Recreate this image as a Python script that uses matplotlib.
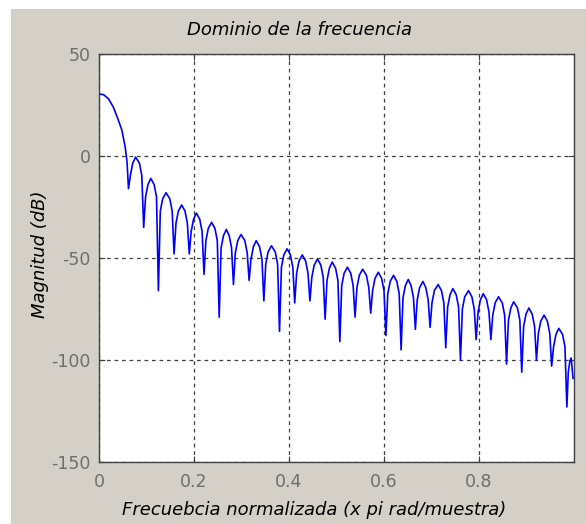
import matplotlib
matplotlib.use("Agg")
import matplotlib.pyplot as plt
from matplotlib.patches import Rectangle

plt.rcParams['axes.unicode_minus'] = False

# lectura de la respuesta en frecuencia (x pi rad/muestra, dB)
# lobulo principal
freq_main = [0.0, 0.010, 0.020, 0.030, 0.040, 0.048, 0.055, 0.059]
mag_main = [30.4, 30.0, 28.0, 24.0, 18.0, 12.7, 4.5, -3.0]

# lobulos laterales: nulo, hombro, hombro, pico, hombro, hombro
freq_side = [
    0.062, 0.066, 0.071, 0.077, 0.085, 0.090,
    0.094, 0.098, 0.103, 0.109, 0.116, 0.121,
    0.125, 0.129, 0.134, 0.141, 0.149, 0.154,
    0.158, 0.162, 0.167, 0.174, 0.181, 0.186,
    0.190, 0.194, 0.199, 0.205, 0.212, 0.217,
    0.221, 0.225, 0.230, 0.237, 0.244, 0.249,
    0.253, 0.257, 0.262, 0.268, 0.274, 0.279,
    0.283, 0.287, 0.292, 0.299, 0.307, 0.312,
    0.316, 0.320, 0.325, 0.331, 0.338, 0.343,
    0.347, 0.351, 0.356, 0.363, 0.371, 0.376,
    0.380, 0.384, 0.389, 0.396, 0.403, 0.408,
    0.412, 0.416, 0.421, 0.428, 0.435, 0.440,
    0.444, 0.448, 0.453, 0.460, 0.467, 0.472,
    0.476, 0.480, 0.485, 0.491, 0.498, 0.503,
    0.507, 0.511, 0.516, 0.523, 0.530, 0.535,
    0.539, 0.543, 0.548, 0.555, 0.563, 0.568,
    0.572, 0.576, 0.581, 0.588, 0.595, 0.600,
    0.604, 0.608, 0.613, 0.620, 0.627, 0.632,
    0.636, 0.640, 0.645, 0.651, 0.657, 0.662,
    0.666, 0.670, 0.675, 0.682, 0.688, 0.693,
    0.697, 0.701, 0.706, 0.714, 0.721, 0.726,
    0.730, 0.734, 0.739, 0.745, 0.752, 0.757,
    0.761, 0.765, 0.770, 0.778, 0.785, 0.790,
    0.794, 0.798, 0.803, 0.809, 0.816, 0.821,
    0.825, 0.829, 0.834, 0.841, 0.849, 0.854,
    0.858, 0.862, 0.867, 0.873, 0.881, 0.886,
    0.890, 0.894, 0.899, 0.905, 0.912, 0.917,
    0.921, 0.925, 0.930, 0.937, 0.944, 0.949,
    0.953, 0.957, 0.962, 0.968, 0.976, 0.981,
    0.985, 0.988, 0.991, 0.994, 0.998,
]
mag_side = [
    -16, -9.5, -3.5, -0.5, -3.5, -9.5,
    -35, -20, -14, -11, -14, -20,
    -66, -27, -21, -18, -21, -27,
    -48, -33, -27, -24, -27, -33,
    -48, -37, -31, -28, -31, -37,
    -58, -41.5, -35.5, -32.5, -35.5, -41.5,
    -79, -45, -39, -36, -39, -45,
    -63, -47.5, -41.5, -38.5, -41.5, -47.5,
    -61, -50.5, -44.5, -41.5, -44.5, -50.5,
    -71, -53, -47, -44, -47, -53,
    -86, -54.5, -48.5, -45.5, -48.5, -54.5,
    -72, -57.5, -51.5, -48.5, -51.5, -57.5,
    -71, -59.5, -53.5, -50.5, -53.5, -59.5,
    -80, -61, -55, -52, -55, -61,
    -91, -63.5, -57.5, -54.5, -57.5, -63.5,
    -79, -64.5, -58.5, -55.5, -58.5, -64.5,
    -77, -66, -60, -57, -60, -66,
    -88, -67.5, -61.5, -58.5, -61.5, -67.5,
    -95, -69.5, -63.5, -60.5, -63.5, -69.5,
    -85, -70.5, -64.5, -61.5, -64.5, -70.5,
    -84, -72, -66, -63, -66, -72,
    -94, -74, -68, -65, -68, -74,
    -100, -75, -69, -66, -69, -75,
    -90, -76.5, -70.5, -67.5, -70.5, -76.5,
    -90, -78, -72, -69, -72, -78,
    -102, -80.5, -74.5, -71.5, -74.5, -80.5,
    -106, -83.5, -77.5, -74.5, -77.5, -83.5,
    -100, -87, -81, -78, -81, -87,
    -103, -93.5, -87.5, -84.5, -87.5, -93.5,
    -123, -106, -101, -99, -109,
]

xticks = [0, 0.2, 0.4, 0.6, 0.8]
xticklabels = ['0', '0.2', '0.4', '0.6', '0.8']
yticks = [-150, -100, -50, 0, 50]

freq = freq_main + freq_side
mag = mag_main + mag_side

fig = plt.figure(figsize=(5.86, 5.24), dpi=100, facecolor='white')
# fondo gris estilo ventana de matlab
fig.patches.append(Rectangle((11 / 586, 0), 1, 1 - 9 / 524, transform=fig.transFigure,
                             facecolor='#d4d0c8', edgecolor='none', zorder=-10))

ax = fig.add_axes([0.169, 0.1183, 0.8105, 0.7787])
ax.plot(freq, mag, color='#0000ff', linewidth=1.2)
ax.set_xlim(0, 1)
ax.set_ylim(-150, 50)
ax.set_xticks(xticks)
ax.set_xticklabels(xticklabels)
ax.set_yticks(yticks)
ax.grid(True, color='#404040', linestyle=(0, (3, 3)), linewidth=0.9)
ax.tick_params(direction='in', length=4, top=True, right=True, labelsize=12.5,
               labelcolor='#6e6e6e', color='#404040')
ax.tick_params(axis='x', pad=8)
ax.tick_params(axis='y', pad=6)
for s in ax.spines.values():
    s.set_color('#404040')
    s.set_linewidth(1.0)

ax.set_title('Dominio de la frecuencia', fontsize=13, style='italic',
             x=0.423, y=1.059, va='center', pad=0)
ax.set_xlabel('Frecuebcia normalizada (x pi rad/muestra)', fontsize=13, style='italic', va='center')
ax.xaxis.set_label_coords(0.453, -0.118)
ax.set_ylabel('Magnitud (dB)', fontsize=13, style='italic', va='center')
ax.yaxis.set_label_coords(-0.124, 0.51)

plt.savefig('out.png', dpi=100, facecolor=fig.get_facecolor())
